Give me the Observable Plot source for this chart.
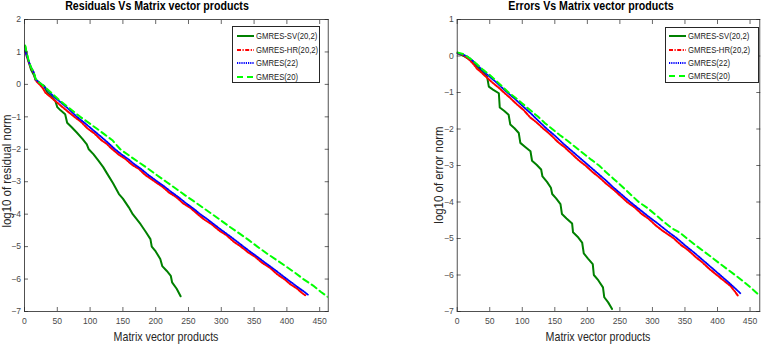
<!DOCTYPE html>
<html><head><meta charset="utf-8">
<script src="https://cdn.jsdelivr.net/npm/d3@7"></script>
<script src="https://cdn.jsdelivr.net/npm/@observablehq/plot@0.6"></script>
<style>
body{margin:0;background:#fff;}
#root{position:relative;width:761px;height:346px;overflow:hidden;background:#fff;font-family:"Liberation Sans",Arial,sans-serif;color:#262626}
.panel{position:absolute;top:0}
.title{position:absolute;top:-1px;font-weight:bold;font-size:12.5px;line-height:15px;white-space:nowrap;transform:translateX(-50%) scaleX(0.85);color:#000}
.xlabel{position:absolute;font-size:13px;line-height:15px;white-space:nowrap;transform:translateX(-50%) scaleX(0.82);color:#262626}
.ylabel{position:absolute;font-size:13px;line-height:11px;white-space:nowrap;transform:translate(-50%,-50%) rotate(-90deg) scaleX(0.88);color:#262626}
.legend{position:absolute;border:1px solid #262626;background:#fff;font-size:9.2px;box-sizing:border-box}
.legend .row{position:absolute;left:0;height:12px;display:flex;align-items:center;white-space:nowrap}
.legend .row span{display:inline-block;transform:scaleX(0.84);transform-origin:left center;color:#1a1a1a}
</style></head><body>
<div id="root"></div>
<script>
// ---------- data ----------
const xTicks = [0, 50, 100, 150, 200, 250, 300, 350, 400, 450];
const leftYTicks = [2, 1, 0, -1, -2, -3, -4, -5, -6, -7];
const rightYTicks = [1, 0, -1, -2, -3, -4, -5, -6, -7];
const seriesNames = ["GMRES-SV(20,2)", "GMRES-HR(20,2)", "GMRES(22)", "GMRES(20)"];
const leftTitle = "Residuals Vs Matrix vector products";
const rightTitle = "Errors Vs Matrix vector products";
const xLabelText = "Matrix vector products";
const leftYLabelText = "log10 of residual norm";
const rightYLabelText = "log10 of error norm";

// Residuals (left)
const resSV_x = [1, 3, 6, 10, 14, 17, 25, 30, 35, 40, 47, 50, 55, 62, 65, 72, 80, 88, 95, 98, 105, 113, 120, 126, 135, 144, 150, 159, 165, 177, 185, 192, 194, 200, 207, 210, 217, 223, 225, 232, 238];
const resSV_y = [1.18, 0.98, 0.72, 0.45, 0.3, 0.15, 0.0, -0.05, -0.26, -0.35, -0.51, -0.70, -0.80, -0.92, -1.18, -1.32, -1.49, -1.67, -1.85, -2.0, -2.15, -2.36, -2.55, -2.75, -3.05, -3.38, -3.52, -3.79, -4.0, -4.31, -4.55, -4.77, -5.0, -5.15, -5.38, -5.6, -5.75, -5.9, -6.1, -6.3, -6.53];
const resHR_x = [1, 3, 6, 10, 14, 17, 22, 28, 32, 37, 45, 55, 65, 76, 86, 96, 106, 116, 125, 134, 144, 154, 164, 174, 184, 199, 210, 220, 231, 242, 253, 264, 275, 286, 297, 308, 319, 330, 341, 352, 363, 374, 385, 396, 406, 416, 423, 428];
const resHR_y = [1.03, 0.88, 0.72, 0.5, 0.36, 0.12, 0.02, -0.12, -0.26, -0.34, -0.48, -0.65, -0.82, -1.0, -1.15, -1.36, -1.5, -1.7, -1.83, -2.0, -2.17, -2.3, -2.48, -2.6, -2.79, -3.0, -3.15, -3.33, -3.47, -3.67, -3.81, -4.0, -4.18, -4.32, -4.51, -4.65, -4.85, -5.0, -5.18, -5.32, -5.51, -5.65, -5.85, -6.0, -6.17, -6.3, -6.43, -6.5];
const res22_x = [1, 3, 6, 10, 14, 17, 22, 28, 35, 45, 55, 65, 80, 90, 100, 110, 120, 129, 138, 148, 158, 168, 178, 188, 203, 214, 224, 235, 246, 257, 268, 279, 290, 301, 312, 323, 334, 345, 356, 367, 378, 389, 400, 410, 420, 427, 432];
const res22_y = [1.05, 0.9, 0.74, 0.52, 0.38, 0.15, 0.07, -0.03, -0.18, -0.38, -0.55, -0.72, -1.0, -1.16, -1.33, -1.5, -1.67, -1.83, -2.0, -2.16, -2.3, -2.47, -2.61, -2.78, -3.0, -3.16, -3.32, -3.48, -3.66, -3.82, -4.0, -4.16, -4.33, -4.5, -4.66, -4.83, -5.0, -5.17, -5.33, -5.5, -5.66, -5.83, -6.0, -6.15, -6.3, -6.4, -6.48];
const res20_x = [1, 3, 6, 10, 14, 17, 22, 30, 40, 50, 60, 70, 85, 97, 110, 122, 134, 146, 160, 172, 185, 202, 216, 230, 245, 258, 272, 286, 300, 315, 328, 342, 355, 370, 385, 398, 412, 425, 440, 452, 459, 466];
const res20_y = [1.2, 1.0, 0.76, 0.52, 0.38, 0.17, 0.07, -0.06, -0.24, -0.43, -0.6, -0.76, -1.0, -1.17, -1.36, -1.54, -1.72, -2.0, -2.2, -2.37, -2.55, -2.8, -3.0, -3.2, -3.42, -3.6, -3.8, -4.0, -4.2, -4.42, -4.6, -4.8, -5.0, -5.22, -5.42, -5.6, -5.8, -6.0, -6.2, -6.4, -6.5, -6.6];

// Errors (right)
const errSV_x = [0, 10, 20, 31, 40, 46, 48.6, 55, 64, 65.4, 72, 79, 81.6, 88, 94.6, 97, 105, 112.6, 115, 122, 129, 131, 138, 144, 146, 152, 158.7, 161, 168, 176.6, 178, 185, 192, 194.5, 201, 208.3, 210, 217, 224, 226, 232, 238];
const errSV_y = [0.08, 0.0, -0.11, -0.29, -0.45, -0.57, -0.84, -0.92, -1.02, -1.41, -1.5, -1.61, -1.88, -1.98, -2.11, -2.38, -2.5, -2.61, -2.87, -2.98, -3.11, -3.3, -3.45, -3.61, -3.78, -3.9, -4.06, -4.33, -4.45, -4.59, -4.83, -4.95, -5.11, -5.41, -5.55, -5.7, -6.0, -6.15, -6.34, -6.61, -6.75, -6.93];
const errHR_x = [0, 8, 16, 24, 30, 36, 46, 55, 64, 72, 82, 92, 102, 112, 122, 133, 143, 155, 165, 176, 187, 197, 208, 218, 229, 240, 250, 261, 272, 283, 294, 305, 315, 325, 333, 344, 355, 366, 377, 388, 399, 410, 420, 427, 431];
const errHR_y = [0.08, 0.04, -0.06, -0.2, -0.34, -0.43, -0.6, -0.74, -0.87, -1.0, -1.16, -1.33, -1.48, -1.68, -1.82, -2.0, -2.15, -2.36, -2.5, -2.68, -2.86, -3.0, -3.18, -3.32, -3.5, -3.66, -3.82, -4.0, -4.14, -4.32, -4.46, -4.64, -4.78, -4.9, -5.0, -5.18, -5.32, -5.5, -5.66, -5.84, -6.0, -6.16, -6.3, -6.46, -6.56];
const err22_x = [0, 8, 16, 24, 32, 40, 50, 60, 77, 89, 101, 113, 125, 138, 150, 163, 176, 189, 202, 215, 228, 240, 253, 266, 280, 294, 309, 323, 338, 351, 365, 378, 391, 404, 415, 425, 435];
const err22_y = [0.08, 0.05, -0.02, -0.13, -0.27, -0.41, -0.57, -0.72, -1.0, -1.18, -1.38, -1.57, -1.78, -2.0, -2.18, -2.4, -2.6, -2.8, -3.0, -3.2, -3.4, -3.6, -3.8, -4.0, -4.2, -4.4, -4.6, -4.8, -5.0, -5.2, -5.4, -5.6, -5.8, -6.0, -6.17, -6.33, -6.5];
const err20_x = [0, 10, 20, 30, 40, 50, 60, 70, 79, 90, 100, 112, 124, 135, 146, 158, 170, 182, 194, 206, 218, 228, 240, 250, 262, 279, 292, 305, 318, 330, 343, 353, 366, 378, 390, 403, 415, 427, 440, 452, 465];
const err20_y = [0.1, 0.05, -0.07, -0.22, -0.38, -0.52, -0.68, -0.85, -1.0, -1.15, -1.3, -1.48, -1.66, -1.84, -2.0, -2.17, -2.33, -2.5, -2.67, -2.84, -3.0, -3.17, -3.36, -3.52, -3.72, -4.0, -4.16, -4.35, -4.55, -4.72, -4.85, -5.0, -5.18, -5.34, -5.5, -5.68, -5.84, -6.0, -6.18, -6.36, -6.57];

// ---------- styles ----------
const seriesStyle = [
  {stroke: "#008000", dash: null, width: 2},
  {stroke: "#ff0000", dash: "4,1.5,1.2,1.5", width: 2},
  {stroke: "#0000ff", dash: "1.2,1", width: 1.8},
  {stroke: "#00ff00", dash: "6,4", width: 2}
];

function table(xs, ys) { return xs.map((x, i) => ({x, y: ys[i]})); }

const leftSeries = [table(resSV_x, resSV_y), table(resHR_x, resHR_y), table(res22_x, res22_y), table(res20_x, res20_y)];
const rightSeries = [table(errSV_x, errSV_y), table(errHR_x, errHR_y), table(err22_x, err22_y), table(err20_x, err20_y)];

const FONT = '"Liberation Sans",Arial,sans-serif';

function panel({series, xDomain, yDomain, yTicks, width, marginLeft, marginRight}) {
  return Plot.plot({
    width, height: 346,
    marginTop: 19, marginBottom: 35, marginLeft, marginRight,
    style: {fontFamily: FONT, fontSize: "8.6px", color: "#4a4a4a", background: "transparent", overflow: "visible"},
    x: {domain: xDomain},
    y: {domain: yDomain},
    marks: [
      ...series.map((d, i) => Plot.line(d, {
        x: "x", y: "y", clip: true,
        stroke: seriesStyle[i].stroke,
        strokeWidth: seriesStyle[i].width,
        strokeDasharray: seriesStyle[i].dash,
        strokeLinejoin: "round"
      })),
      Plot.frame({stroke: "#262626", strokeWidth: 0.8}),
      Plot.axisX({anchor: "bottom", ticks: xTicks, tickSize: 0, tickPadding: 6, label: null}),
      Plot.axisX({anchor: "bottom", ticks: xTicks, tickSize: -4, tickFormat: () => "", label: null, stroke: "#262626", strokeWidth: 0.7}),
      Plot.axisX({anchor: "top", ticks: xTicks, tickSize: -4, tickFormat: () => "", label: null, stroke: "#262626", strokeWidth: 0.7}),
      Plot.axisY({anchor: "left", ticks: yTicks, tickSize: 0, tickPadding: 3.5, label: null}),
      Plot.axisY({anchor: "left", ticks: yTicks, tickSize: -4, tickFormat: () => "", label: null, stroke: "#262626", strokeWidth: 0.7}),
      Plot.axisY({anchor: "right", ticks: yTicks, tickSize: -4, tickFormat: () => "", label: null, stroke: "#262626", strokeWidth: 0.7})
    ]
  });
}

const root = document.getElementById("root");

function place(el, left) { el.classList.add("panel"); el.style.left = left + "px"; root.appendChild(el); }

place(panel({series: leftSeries, xDomain: [0, 463], yDomain: [-7, 2], yTicks: leftYTicks, width: 380, marginLeft: 24, marginRight: 52.3}), 0);
place(panel({series: rightSeries, xDomain: [0, 465], yDomain: [-7, 1], yTicks: rightYTicks, width: 381, marginLeft: 76.7, marginRight: 1.7}), 380);

function addText(cls, text, css) {
  const d = document.createElement("div");
  d.className = cls; d.textContent = text;
  Object.assign(d.style, css);
  root.appendChild(d);
}
addText("title", leftTitle, {left: "157px"});
addText("title", rightTitle, {left: "591px"});
addText("xlabel", xLabelText, {left: "166px", top: "329px"});
addText("xlabel", xLabelText, {left: "598px", top: "329px"});
addText("ylabel", leftYLabelText, {left: "6px", top: "171px"});
addText("ylabel", rightYLabelText, {left: "438px", top: "175px"});

function legend(left, top, w, h, sampleLeft, textLeft, rowsY) {
  const box = document.createElement("div");
  box.className = "legend";
  Object.assign(box.style, {left: left + "px", top: top + "px", width: w + "px", height: h + "px"});
  seriesNames.forEach((name, i) => {
    const row = document.createElement("div");
    row.className = "row";
    row.style.top = (rowsY[i] - top - 6) + "px";
    const s = d3.create("svg").attr("width", textLeft - left).attr("height", 12).style("flex", "none");
    s.append("line").attr("x1", sampleLeft - left).attr("x2", textLeft - left - 2).attr("y1", 6).attr("y2", 6)
      .attr("stroke", seriesStyle[i].stroke).attr("stroke-width", seriesStyle[i].width)
      .attr("stroke-dasharray", seriesStyle[i].dash);
    row.appendChild(s.node());
    const t = document.createElement("span");
    t.textContent = name;
    row.appendChild(t);
    box.appendChild(row);
  });
  root.appendChild(box);
}
legend(232, 26, 88, 57, 236, 255, [35, 49, 62.3, 75.7]);
legend(665, 27, 94, 56, 668, 687, [35, 48.5, 61.8, 75]);
</script>
</body></html>
